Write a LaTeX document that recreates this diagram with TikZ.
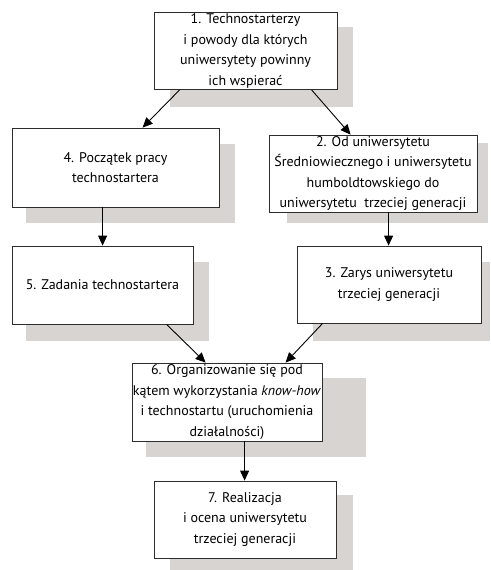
\documentclass[tikz,border=0pt]{standalone}
\usepackage{fontspec}
\setmainfont{PT Sans}
\usetikzlibrary{arrows.meta}
\definecolor{dropgray}{RGB}{216,212,210}
\definecolor{edge}{RGB}{45,45,45}
\tikzset{
  box/.style={draw=edge, line width=0.8pt, fill=white, inner sep=0pt,
    align=center, font=\fontsize{14}{20.5}\selectfont},
  drop/.style={fill=dropgray, draw=none},
  arr/.style={draw=black, line width=0.9pt, -{Triangle[length=10pt,width=9pt]}},
}
% a box given by its corners (x1,y1,x2,y2), y measured downwards
\newcommand{\mkbox}[6]{%
  \node[box, minimum width=#3-#1, minimum height=#4-#2] (#5)
    at ({(#1+#3)/2},{(#2+#4)/2}) {#6};}
\begin{document}
\begin{tikzpicture}[x=1pt,y=-1pt]
\useasboundingbox (0,0) rectangle (490,570);
% drop shadows
\path[drop] (170,27) rectangle (353,107);
\path[drop] (26,144) rectangle (235,223);
\path[drop] (287,143) rectangle (488,223);
\path[drop] (26,262) rectangle (209,341);
\path[drop] (313,262) rectangle (490,341);
\path[drop] (146,378) rectangle (366,457);
\path[drop] (170,495) rectangle (353,570);
% boxes
\mkbox{154}{12.5}{337}{89.5}{b1}{1. Technostarterzy\\i powody dla których\\uniwersytety powinny\\ich wspierać}
\mkbox{12}{128}{219}{207}{b4}{4. Początek pracy\\technostartera}
\mkbox{269}{135}{477}{212}{b2}{2. Od uniwersytetu\\Średniowiecznego i uniwersytetu\\humboldtowskiego do\\uniwersytetu~ trzeciej generacji}
\mkbox{12}{246}{193}{324}{b5}{5. Zadania technostartera}
\mkbox{297}{246}{481}{323}{b3}{3. Zarys uniwersytetu\\trzeciej generacji}
\mkbox{132}{363}{322}{441}{b6}{6. Organizowanie się pod\\kątem wykorzystania \textit{know-how}\\i technostartu (uruchomienia\\działalności)}
\mkbox{154}{481}{336}{558}{b7}{7. Realizacja\\i ocena uniwersytetu\\trzeciej generacji}
% connectors
\draw[arr] ([xshift=26pt]b1.south west) -- ([xshift=131pt]b4.north west);
\draw[arr] ([xshift=158pt]b1.south west) -- ([xshift=82pt]b2.north west);
\draw[arr] ([xshift=91pt]b4.south west) -- ([xshift=91pt]b5.north west);
\draw[arr] ([xshift=120pt]b2.south west) -- ([xshift=92pt]b3.north west);
\draw[arr] ([xshift=155pt]b5.south west) -- ([xshift=74pt]b6.north west);
\draw[arr] ([xshift=26pt]b3.south west) -- ([xshift=154pt]b6.north west);
\draw[arr] ([xshift=113pt]b6.south west) -- ([xshift=91pt]b7.north west);
\end{tikzpicture}
\end{document}
